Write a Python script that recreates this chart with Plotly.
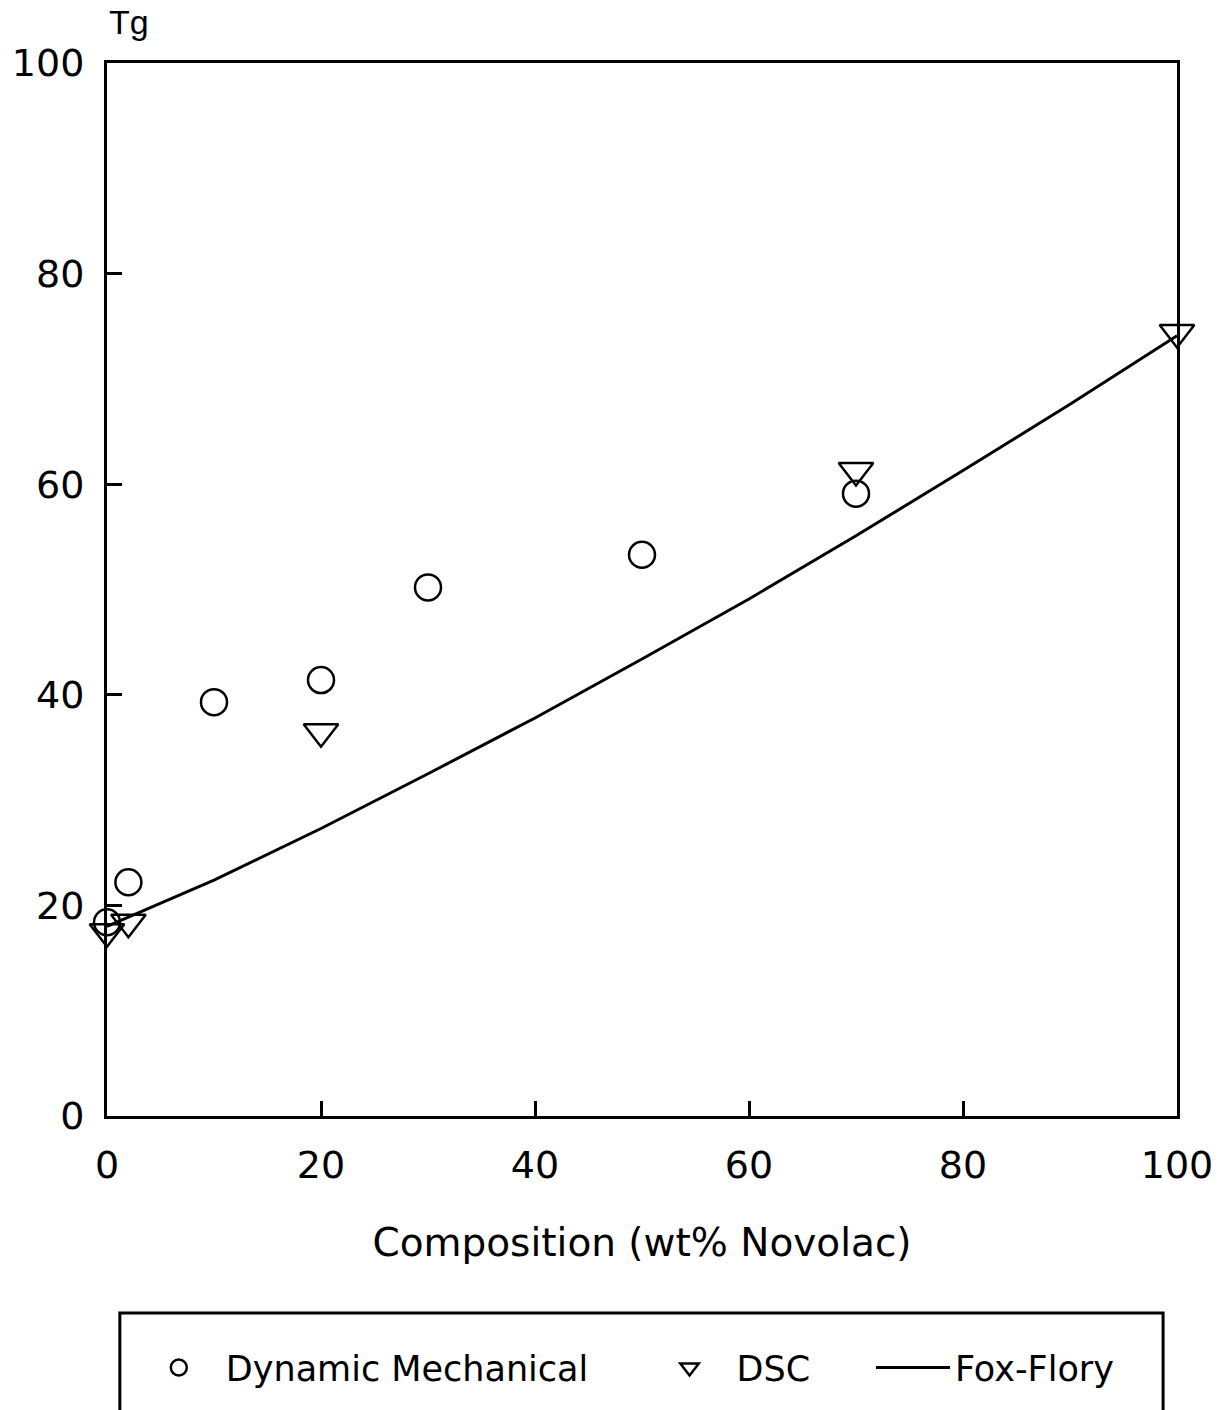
import plotly.graph_objects as go

# Dynamic Mechanical (circles)
dm_x = [0, 2, 10, 20, 30, 50, 70]
dm_y = [18.4, 22.2, 39.3, 41.4, 50.2, 53.3, 59.1]

# DSC (triangles)
dsc_x = [0, 2, 20, 70, 100]
dsc_y = [17.5, 18.4, 36.5, 61.3, 74.4]

# Fox-Flory curve
ff_x = [0, 10, 20, 30, 40, 50, 60, 70, 80, 90, 100]
ff_y = [18.0, 22.4, 27.3, 32.5, 37.8, 43.4, 49.1, 55.1, 61.3, 67.6, 74.1]

x_ticks = [0, 20, 40, 60, 80, 100]
y_ticks = [0, 20, 40, 60, 80, 100]

FONT = "DejaVu Sans"

fig = go.Figure()
fig.add_trace(go.Scatter(
    x=ff_x, y=ff_y, mode="lines", name="Fox-Flory",
    line=dict(color="black", width=3), legend="legend3",
))
fig.add_trace(go.Scatter(
    x=dm_x, y=dm_y, mode="markers", name="Dynamic Mechanical",
    marker=dict(symbol="circle-open", size=26, color="black", line=dict(width=2.5, color="black")),
    cliponaxis=False, legend="legend",
))
fig.add_trace(go.Scatter(
    x=dsc_x, y=dsc_y, mode="markers", name="DSC",
    marker=dict(symbol="triangle-down-open", size=30, color="black", line=dict(width=2.5, color="black")),
    cliponaxis=False, legend="legend2",
))

axis_common = dict(
    showline=True, linecolor="black", linewidth=3, mirror=True,
    ticks="inside", ticklen=15, tickwidth=2.5, tickcolor="black",
    showgrid=False, zeroline=False,
    tickfont=dict(family=FONT, size=38, color="black"),
)

legend_font = dict(family=FONT, size=35, color="black")

fig.update_layout(
    width=1225, height=1410,
    margin=dict(l=103, r=45, t=63, b=294),
    paper_bgcolor="white", plot_bgcolor="white",
    showlegend=True,
    xaxis=dict(range=[0, 100], tickvals=x_ticks, ticktext=[str(v) for v in x_ticks],
               ticklabelstandoff=13,
               title=dict(text="Composition (wt% Novolac)", font=dict(family=FONT, size=39, color="black"),
                          standoff=44),
               **axis_common),
    yaxis=dict(range=[0, 100], tickvals=y_ticks, ticktext=[str(v) for v in y_ticks],
               ticklabelstandoff=12,
               **axis_common),
    legend=dict(x=0.0232, y=-0.239, xanchor="left", yanchor="middle", orientation="h",
                itemwidth=84,
                font=legend_font, bgcolor="rgba(0,0,0,0)", borderwidth=0),
    legend2=dict(x=0.5005, y=-0.239, xanchor="left", yanchor="middle", orientation="h",
                 itemwidth=84,
                 font=legend_font, bgcolor="rgba(0,0,0,0)", borderwidth=0),
    legend3=dict(x=0.714, y=-0.239, xanchor="left", yanchor="middle", orientation="h",
                 itemwidth=74,
                 font=legend_font, bgcolor="rgba(0,0,0,0)", borderwidth=0),
    shapes=[dict(type="rect", xref="paper", yref="paper",
                 x0=0.012, x1=0.987, y0=-0.40, y1=-0.187,
                 line=dict(color="black", width=3), fillcolor="rgba(0,0,0,0)")],
    annotations=[dict(text="Tg", xref="paper", yref="paper", x=0.0, y=1.0,
                      xanchor="left", yanchor="bottom", yshift=20, showarrow=False,
                      font=dict(family="Liberation Sans", size=34, color="black"))],
)

fig.write_html("out.html")
